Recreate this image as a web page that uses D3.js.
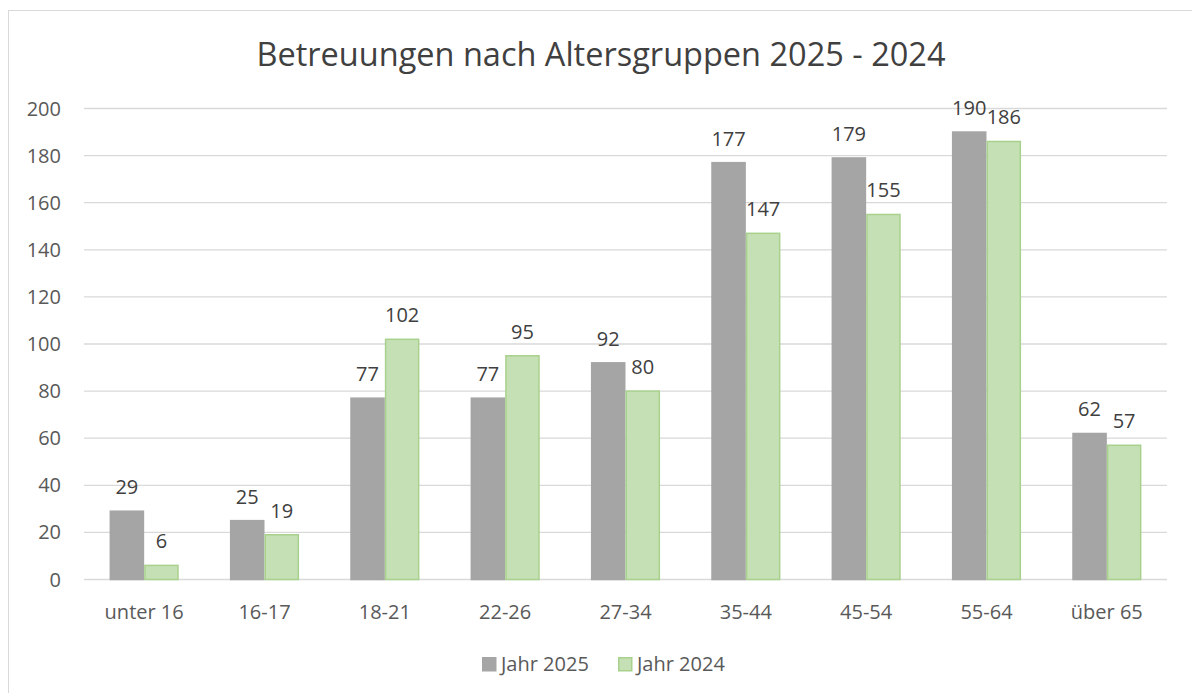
<!DOCTYPE html>
<html>
<head>
<meta charset="utf-8">
<script src="https://cdn.jsdelivr.net/npm/d3@7"></script>
<style>
  body { margin: 0; background: #fff; }
  svg text { font-family: "Open Sans", "Noto Sans", sans-serif; }
</style>
</head>
<body>
<svg id="chart"></svg>
<script>
const categories = ['unter 16', '16-17', '18-21', '22-26', '27-34', '35-44', '45-54', '55-64', 'über 65'];
const jahr2025 = [29, 25, 77, 77, 92, 177, 179, 190, 62];
const jahr2024 = [6, 19, 102, 95, 80, 147, 155, 186, 57];
const seriesNames = ['Jahr 2025', 'Jahr 2024'];
const yTicks = [0, 20, 40, 60, 80, 100, 120, 140, 160, 180, 200];

const width = 1192;
const height = 693;
const margin = { left: 84, right: 25, top: 108.5, bottom: 113.5 };

const svg = d3.select('#chart').attr('width', width).attr('height', height);

// chart frame
svg.append('rect')
  .attr('x', 8.5).attr('y', 10.5)
  .attr('width', 1200).attr('height', 700)
  .attr('fill', '#fff').attr('stroke', '#d9d9d9');

svg.append('text')
  .attr('x', 601).attr('y', 66)
  .attr('text-anchor', 'middle')
  .attr('font-size', '32.5px')
  .attr('fill', '#404040')
  .text('Betreuungen nach Altersgruppen 2025 - 2024');

const x = d3.scaleBand()
  .domain(categories)
  .range([margin.left, width - margin.right]);

const x1 = d3.scaleBand()
  .domain(seriesNames)
  .range([0, x.bandwidth()])
  .paddingOuter(0.74);

const y = d3.scaleLinear()
  .domain([0, 200])
  .range([height - margin.bottom, margin.top]);

// gridlines
svg.append('g')
  .selectAll('line')
  .data(yTicks)
  .join('line')
  .attr('x1', margin.left).attr('x2', width - margin.right)
  .attr('y1', d => y(d)).attr('y2', d => y(d))
  .attr('stroke', '#d9d9d9').attr('stroke-width', 1.3);

// y tick labels
svg.append('g')
  .selectAll('text')
  .data(yTicks)
  .join('text')
  .attr('x', 61).attr('y', d => y(d))
  .attr('dy', '0.35em')
  .attr('text-anchor', 'end')
  .attr('font-size', '20px')
  .attr('fill', '#595959')
  .text(d => d);

const rows = categories.map((c, i) => ({ cat: c, values: [jahr2025[i], jahr2024[i]] }));
const fills = ['#a5a5a5', '#c5e0b4'];
const strokes = ['#a5a5a5', '#a9d18e'];

const groups = svg.append('g')
  .selectAll('g')
  .data(rows)
  .join('g')
  .attr('transform', d => `translate(${x(d.cat)},0)`);

groups.selectAll('rect')
  .data(d => d.values.map((v, k) => ({ name: seriesNames[k], v, k })))
  .join('rect')
  .attr('x', d => x1(d.name) + 0.75)
  .attr('width', x1.bandwidth() - 1.5)
  .attr('y', d => y(d.v))
  .attr('height', d => y(0) - y(d.v))
  .attr('fill', d => fills[d.k])
  .attr('stroke', d => strokes[d.k])
  .attr('stroke-width', 1.5);

groups.selectAll('text')
  .data(d => d.values.map((v, k) => ({ name: seriesNames[k], v, k })))
  .join('text')
  .attr('x', d => x1(d.name) + x1.bandwidth() / 2)
  .attr('y', d => y(d.v) - 17)
  .attr('text-anchor', 'middle')
  .attr('font-size', '20px')
  .attr('fill', '#404040')
  .text(d => d.v);

// x labels
svg.append('g')
  .selectAll('text')
  .data(categories)
  .join('text')
  .attr('x', d => x(d) + x.bandwidth() / 2)
  .attr('y', height - margin.bottom + 39)
  .attr('text-anchor', 'middle')
  .attr('font-size', '20px')
  .attr('fill', '#595959')
  .text(d => d);

// legend
const legendX = [482, 618];
const legend = svg.append('g')
  .selectAll('g')
  .data(seriesNames)
  .join('g')
  .attr('transform', (d, i) => `translate(${legendX[i]},657)`);

legend.append('rect')
  .attr('x', 0.75).attr('y', 0.75)
  .attr('width', 13).attr('height', 13)
  .attr('fill', (d, i) => fills[i])
  .attr('stroke', (d, i) => strokes[i])
  .attr('stroke-width', 1.5);

legend.append('text')
  .attr('x', 19).attr('y', 7)
  .attr('dy', '0.35em')
  .attr('font-size', '20px')
  .attr('fill', '#595959')
  .text(d => d);
</script>
</body>
</html>
